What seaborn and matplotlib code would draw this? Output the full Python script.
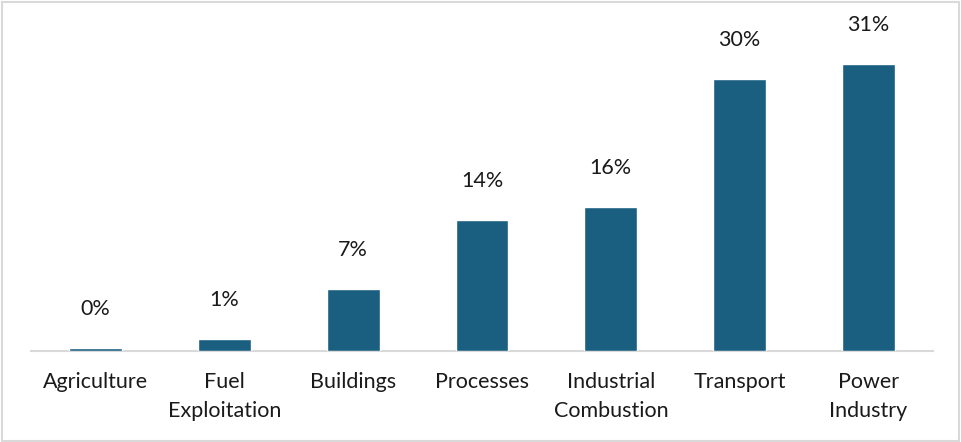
import matplotlib
matplotlib.use("Agg")
import matplotlib.pyplot as plt
import seaborn as sns
import pandas as pd
from matplotlib.patches import Rectangle

# data
sectors = ['Agriculture', 'Fuel\nExploitation', 'Buildings', 'Processes',
           'Industrial\nCombustion', 'Transport', 'Power\nIndustry']
share = [0.3, 1.3, 6.7, 14.2, 15.7, 29.6, 31.2]
share_labels = ['0%', '1%', '7%', '14%', '16%', '30%', '31%']

df = pd.DataFrame({'sector': sectors, 'share': share})

sns.set_theme(style='white')
plt.rcParams['font.family'] = ['Lato', 'DejaVu Sans']

fig = plt.figure(figsize=(9.61, 4.42), dpi=100)
ax = fig.add_axes([31 / 961, (442 - 351) / 442, 902 / 961, 343 / 442])

sns.barplot(data=df, x='sector', y='share', color='#1a5e80', saturation=1,
            width=0.41, ax=ax, zorder=3)

ax.set_ylim(0, 343 / 9.2)
ax.set_xlim(-0.5, len(sectors) - 0.5)

for i, (v, lab) in enumerate(zip(share, share_labels)):
    ax.annotate(lab, (i, v), xytext=(0, 28), textcoords='offset points',
                ha='center', va='center', fontsize=15.5, color='#1a1a1a')

ax.set_xlabel('')
ax.set_ylabel('')
ax.set_yticks([])
ax.tick_params(axis='x', length=0, pad=15, labelsize=15.5, labelcolor='#1a1a1a')
for t in ax.get_xticklabels():
    t.set_linespacing(1.6)
for s in ['top', 'right', 'left']:
    ax.spines[s].set_visible(False)
ax.spines['bottom'].set_color('#d9d9d9')
ax.spines['bottom'].set_linewidth(1.5)
ax.spines['bottom'].set_zorder(1)

# light grey frame round the chart
fig.patches.append(Rectangle((0.002, 0.003), 0.996, 0.993, transform=fig.transFigure,
                             fill=False, edgecolor='#d9d9d9', linewidth=1.5))

fig.savefig('out.png', dpi=100)
